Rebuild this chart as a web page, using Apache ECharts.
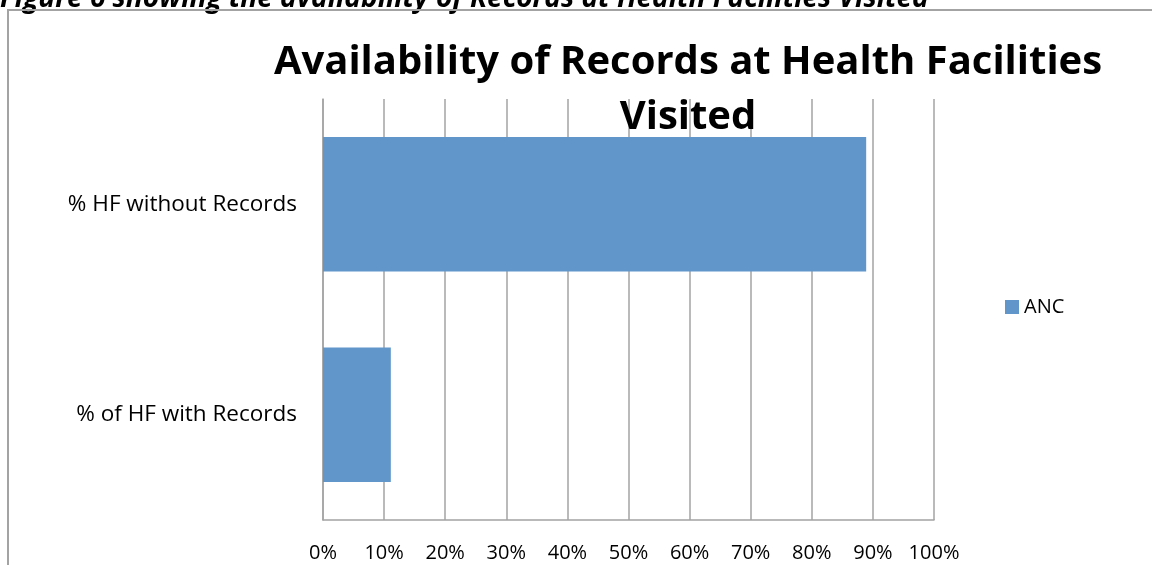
<!DOCTYPE html>
<html>
<head>
<meta charset="utf-8">
<title>Availability of Records</title>
<script src="https://cdn.jsdelivr.net/npm/echarts@6/dist/echarts.min.js"></script>
<style>
    html, body { margin: 0; padding: 0; background: #fff; }
    #chart { width: 1152px; height: 565px; }
</style>
</head>
<body>
<div id="chart"></div>
<script>
// data
const categories = ['% of HF with Records', '% HF without Records'];
const ancValues = [11.1, 88.9];
const seriesName = 'ANC';
const xTicks = [0, 10, 20, 30, 40, 50, 60, 70, 80, 90, 100];

const font = '"Open Sans", "Noto Sans", sans-serif';
const gridColor = '#a3a3a3';

const myChart = echarts.init(document.getElementById('chart'));
myChart.setOption({
    animation: false,
    backgroundColor: '#fff',
    graphic: [
        {
            // figure caption, cut off at the top
            type: 'text',
            left: 0,
            top: -15,
            style: {
                text: 'Figure 6 showing the availability of Records at Health Facilities Visited',
                font: 'italic bold 28px ' + font,
                fill: '#000'
            }
        },
        {
            // chart frame
            type: 'rect',
            shape: { x: 8, y: 10, width: 1200, height: 600 },
            style: { fill: 'none', stroke: gridColor, lineWidth: 2 }
        },
        {
            type: 'text',
            x: 688,
            y: 90,
            style: {
                text: 'Availability of Records at Health Facilities\nVisited',
                font: 'bold 40px ' + font,
                fill: '#000',
                align: 'center',
                verticalAlign: 'middle',
                lineHeight: 55
            },
            z: 10
        }
    ],
    legend: {
        data: [{ name: seriesName, icon: 'rect' }],
        left: 1000,
        top: 292,
        itemWidth: 14,
        itemHeight: 14,
        itemGap: 6,
        textStyle: { fontFamily: font, fontSize: 20, color: '#000' }
    },
    grid: {
        left: 323,
        right: 218,
        top: 99,
        bottom: 45
    },
    xAxis: {
        type: 'value',
        min: 0,
        max: 100,
        interval: 10,
        axisLine: { show: true, lineStyle: { color: gridColor, width: 1.5 } },
        axisTick: { show: false },
        splitLine: { show: true, lineStyle: { color: gridColor, width: 1.5 } },
        axisLabel: {
            margin: 23,
            fontFamily: font,
            fontSize: 20,
            color: '#000',
            formatter: (v) => (xTicks.includes(v) ? v + '%' : '')
        }
    },
    yAxis: {
        type: 'category',
        data: categories,
        axisLine: { show: true, lineStyle: { color: gridColor, width: 1.5 } },
        axisTick: { show: false },
        axisLabel: {
            margin: 26,
            fontFamily: font,
            fontSize: 22.5,
            color: '#000'
        }
    },
    series: [
        {
            name: seriesName,
            type: 'bar',
            data: ancValues,
            barCategoryGap: '36%',
            itemStyle: { color: '#6096c9' }
        }
    ]
});
</script>
</body>
</html>
